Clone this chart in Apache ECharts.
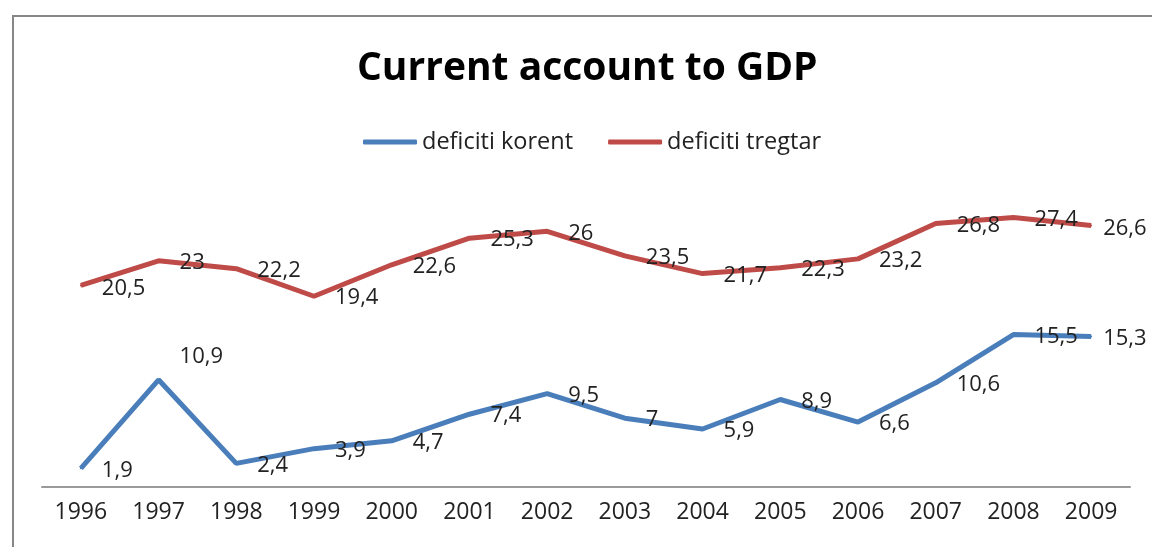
<!DOCTYPE html>
<html>
<head>
<meta charset="utf-8">
<script src="https://cdn.jsdelivr.net/npm/echarts@6/dist/echarts.min.js"></script>
<style>html,body{margin:0;padding:0;background:#fff}#c{width:1152px;height:547px}</style>
</head>
<body>
<div id="c"></div>
<script>
const years = ['1996','1997','1998','1999','2000','2001','2002','2003','2004','2005','2006','2007','2008','2009'];
const deficitiKorent = [1.9, 10.9, 2.4, 3.9, 4.7, 7.4, 9.5, 7, 5.9, 8.9, 6.6, 10.6, 15.5, 15.3];
const deficitiTregtar = [20.5, 23, 22.2, 19.4, 22.6, 25.3, 26, 23.5, 21.7, 22.3, 23.2, 26.8, 27.4, 26.6];
const seriesNames = ['deficiti korent', 'deficiti tregtar'];

const FONT = '"Open Sans", "Noto Sans", sans-serif';
const fmt = v => String(v).replace('.', ',');

function withOffsets(arr, offsets) {
  return arr.map((v, i) => offsets[i] ? { value: v, label: { offset: offsets[i] } } : v);
}

const chart = echarts.init(document.getElementById('c'), null, { renderer: 'canvas' });
chart.setOption({
  animation: false,
  backgroundColor: '#ffffff',
  graphic: [{
    type: 'rect',
    shape: { x: 13, y: 16, width: 1300, height: 700 },
    style: { fill: 'none', stroke: '#878787', lineWidth: 2 },
    silent: true
  }],
  title: {
    text: 'Current account to GDP',
    left: 352,
    top: 44,
    textStyle: { fontFamily: FONT, fontWeight: 'bold', fontSize: 39, color: '#000' }
  },
  legend: {
    data: seriesNames,
    left: 358,
    top: 125,
    icon: 'roundRect',
    itemWidth: 54,
    itemHeight: 5,
    itemGap: 35,
    textStyle: { fontFamily: FONT, fontSize: 23.5, color: '#222' }
  },
  grid: { left: 42, right: 22, top: 192, bottom: 60, containLabel: false },
  xAxis: {
    type: 'category',
    data: years,
    boundaryGap: true,
    axisLine: { show: true, lineStyle: { color: '#9a9a9a', width: 2 } },
    axisTick: { show: false },
    axisLabel: { fontFamily: FONT, fontSize: 23, color: '#222', margin: 14 }
  },
  yAxis: {
    type: 'value',
    min: 0, max: 30, interval: 5,
    show: false,
    splitLine: { show: false }
  },
  series: [
    {
      name: seriesNames[0],
      type: 'line',
      data: withOffsets(deficitiKorent, { 1: [0, -23], 13: [-9, 2] }),
      symbol: 'circle',
      symbolSize: 2,
      showSymbol: true,
      lineStyle: { color: '#4a7ebb', width: 5 },
      itemStyle: { color: '#4a7ebb' },
      label: {
        show: true, position: 'right', distance: 20, offset: [0, 2],
        formatter: p => fmt(p.value),
        fontFamily: FONT, fontSize: 22, color: '#222'
      }
    },
    {
      name: seriesNames[1],
      type: 'line',
      data: withOffsets(deficitiTregtar, { 0: [0, 3], 13: [-9, 3] }),
      symbol: 'circle',
      symbolSize: 2,
      showSymbol: true,
      lineStyle: { color: '#be4b48', width: 5 },
      itemStyle: { color: '#be4b48' },
      label: {
        show: true, position: 'right', distance: 20, offset: [0, 2],
        formatter: p => fmt(p.value),
        fontFamily: FONT, fontSize: 22, color: '#222'
      }
    }
  ]
});
</script>
</body>
</html>
